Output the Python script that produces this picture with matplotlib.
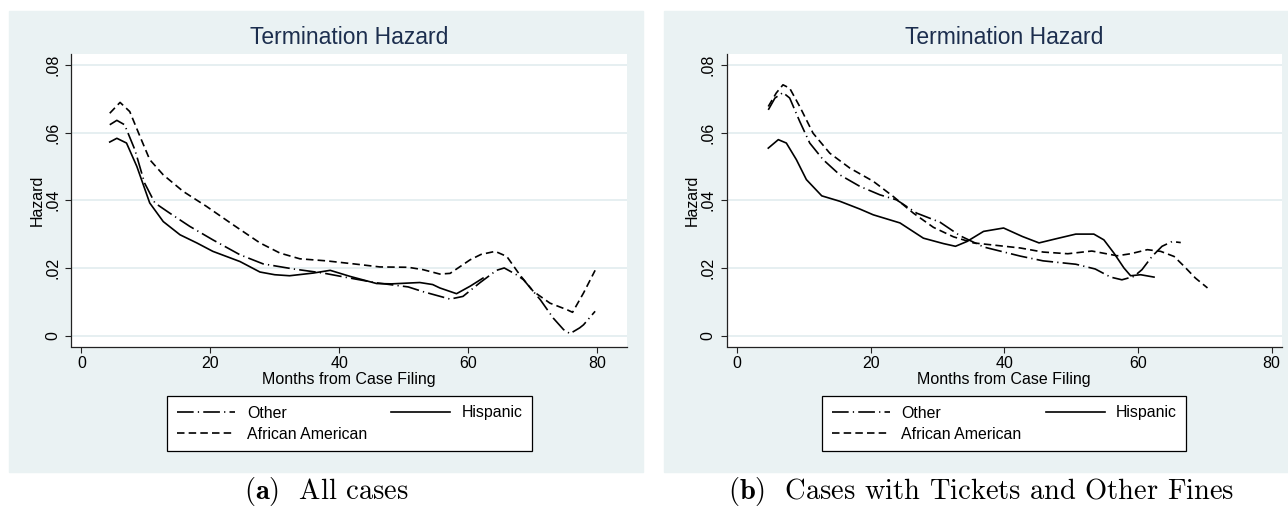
import matplotlib
matplotlib.use("Agg")
import matplotlib.pyplot as plt
from matplotlib.patches import Rectangle

W, H = 1288, 516
plt.rcParams['font.family'] = ['Liberation Sans', 'DejaVu Sans']
plt.rcParams['mathtext.fontset'] = 'cm'
plt.rcParams['lines.scale_dashes'] = False

# ---- data: (a) all cases ----
a_other_x = [4.4, 5.5, 6.7, 8.3, 9.8, 11.4, 13.7, 16.8, 20.4, 24.6, 28.2, 32.9, 37.5, 41.7,
             45.8, 50.7, 53.0, 57.2, 59.2, 61.8, 64.4, 65.6, 67.5, 68.6, 71.2, 73.2, 74.8,
             75.8, 77.3, 77.9, 79.7]
a_other_y = [0.0623, 0.0636, 0.0623, 0.0549, 0.0451, 0.0392, 0.0362, 0.0323, 0.0283, 0.0239,
             0.0212, 0.0197, 0.0185, 0.0170, 0.0156, 0.0144, 0.0130, 0.0108, 0.0116, 0.0156,
             0.0193, 0.0200, 0.0180, 0.0165, 0.0106, 0.0052, 0.0018, 0.0006, 0.0023, 0.0032,
             0.0072]
a_hisp_x = [4.4, 5.5, 7.0, 8.6, 10.6, 12.7, 15.3, 17.9, 20.4, 24.6, 26.5, 27.7, 30.0, 32.3,
            36.0, 38.6, 41.7, 45.8, 48.1, 52.5, 54.5, 55.6, 58.2, 60.3, 62.3]
a_hisp_y = [0.0572, 0.0583, 0.0569, 0.0500, 0.0392, 0.0337, 0.0298, 0.0274, 0.0249, 0.0219,
            0.0200, 0.0188, 0.0180, 0.0177, 0.0185, 0.0193, 0.0175, 0.0154, 0.0153, 0.0157,
            0.0151, 0.0141, 0.0124, 0.0146, 0.0170]
a_afam_x = [4.4, 6.0, 7.5, 9.1, 10.6, 12.7, 15.8, 19.4, 23.5, 27.7, 30.8, 33.9, 38.0, 43.2,
            46.3, 50.7, 53.0, 55.6, 57.2, 60.3, 62.0, 64.2, 66.0, 68.0, 70.1, 72.7, 75.3,
            76.2, 77.9, 79.7]
a_afam_y = [0.0657, 0.0689, 0.0662, 0.0588, 0.0520, 0.0475, 0.0426, 0.0382, 0.0328, 0.0274,
            0.0244, 0.0227, 0.0221, 0.0210, 0.0203, 0.0202, 0.0195, 0.0182, 0.0184, 0.0224,
            0.0240, 0.0249, 0.0234, 0.0180, 0.0131, 0.0096, 0.0077, 0.0069, 0.0126, 0.0193]

# ---- data: (b) tickets and other fines ----
b_other_x = [4.7, 5.7, 6.9, 7.9, 9.4, 10.9, 12.9, 15.4, 18.4, 21.4, 23.9, 26.9, 30.4, 33.4,
             36.9, 42.4, 45.8, 50.7, 53.6, 55.9, 57.6, 59.4, 60.6, 62.1, 63.6, 65.1, 66.4]
b_other_y = [0.0667, 0.0702, 0.0718, 0.0702, 0.0633, 0.0569, 0.0520, 0.0475, 0.0441, 0.0416,
             0.0401, 0.0362, 0.0335, 0.0295, 0.0262, 0.0235, 0.0221, 0.0211, 0.0197, 0.0173,
             0.0165, 0.0175, 0.0195, 0.0234, 0.0264, 0.0278, 0.0275]
b_hisp_x = [4.7, 6.2, 7.4, 8.9, 10.4, 12.7, 15.4, 18.4, 20.4, 24.4, 27.9, 30.9, 32.7, 34.4,
            36.9, 39.9, 42.7, 45.2, 47.7, 50.7, 53.4, 54.9, 56.4, 57.9, 58.9, 60.4, 62.4]
b_hisp_y = [0.0554, 0.0579, 0.0569, 0.0520, 0.0461, 0.0413, 0.0397, 0.0374, 0.0357, 0.0333,
            0.0288, 0.0272, 0.0264, 0.0278, 0.0308, 0.0318, 0.0293, 0.0274, 0.0286, 0.0300,
            0.0300, 0.0283, 0.0244, 0.0200, 0.0177, 0.0180, 0.0173]
b_afam_x = [4.7, 5.9, 6.9, 7.9, 9.4, 11.4, 13.9, 16.9, 20.4, 23.4, 26.4, 29.4, 32.4, 35.4,
            42.4, 45.8, 49.5, 53.1, 56.9, 58.9, 61.4, 63.4, 65.4, 66.9, 68.6, 70.4]
b_afam_y = [0.0677, 0.0717, 0.0741, 0.0731, 0.0677, 0.0598, 0.0539, 0.0495, 0.0456, 0.0411,
            0.0362, 0.0320, 0.0292, 0.0274, 0.0259, 0.0247, 0.0242, 0.0250, 0.0236, 0.0242,
            0.0254, 0.0249, 0.0234, 0.0205, 0.0170, 0.0141]

x_ticks = [0, 20, 40, 60, 80]
y_ticks = [0, 0.02, 0.04, 0.06, 0.08]
y_tick_labels = ['0', '.02', '.04', '.06', '.08']
panel_title = 'Termination Hazard'
captions = [r'$\mathbf{(a)}$  All cases', r'$\mathbf{(b)}$  Cases with Tickets and Other Fines']

BG = '#eaf2f3'
TITLE_C = '#1c2e4e'

styles = {
    'Other': dict(color='black', lw=1.2, dashes=(12, 3, 0.9, 3), dash_capstyle='butt'),
    'Hispanic': dict(color='black', lw=1.2, ls='-'),
    'African American': dict(color='black', lw=1.2, dashes=(5.4, 3), dash_capstyle='butt'),
}

fig = plt.figure(figsize=(W / 100, H / 100), dpi=100)


def fx(px):
    return px / W


def fy(py):
    return 1 - py / H


panels = [
    dict(bg=(9, 643), ax=(71.4, 626.7), xlim=(-1.55, 84.6), legx=167.3,
         ylab_x=44.5, cap_x=326,
         series=[('Other', a_other_x, a_other_y), ('Hispanic', a_hisp_x, a_hisp_y),
                 ('African American', a_afam_x, a_afam_y)]),
    dict(bg=(664, 1288), ax=(726.5, 1281.7), xlim=(-1.55, 81.5), legx=822,
         ylab_x=699.5, cap_x=981,
         series=[('Other', b_other_x, b_other_y), ('Hispanic', b_hisp_x, b_hisp_y),
                 ('African American', b_afam_x, b_afam_y)]),
]

ax_top, ax_bot = 54, 346.5

for i, p in enumerate(panels):
    b0, b1 = p['bg']
    fig.patches.append(Rectangle((fx(b0), fy(472)), fx(b1) - fx(b0), (472 - 11) / H,
                                 transform=fig.transFigure, color=BG, zorder=-5))
    a0, a1 = p['ax']
    ax = fig.add_axes([fx(a0), fy(ax_bot), fx(a1) - fx(a0), (ax_bot - ax_top) / H])
    ax.set_zorder(2)
    ax.set_facecolor('white')
    lines = {}
    for name, xs, ys in p['series']:
        lines[name], = ax.plot(xs, ys, label=name, **styles[name])
    ax.set_xlim(*p['xlim'])
    ax.set_ylim(-0.0032, 0.0832)
    ax.set_xticks(x_ticks)
    ax.set_xticklabels([str(t) for t in x_ticks])
    ax.set_yticks(y_ticks)
    ax.set_yticklabels(y_tick_labels, rotation=90, va='center')
    ax.grid(axis='y', color='#e4eef0', lw=1.3)
    ax.set_axisbelow(True)
    for s in ['top', 'right']:
        ax.spines[s].set_visible(False)
    for s in ['left', 'bottom']:
        ax.spines[s].set_color('#222222')
        ax.spines[s].set_linewidth(0.9)
    ax.tick_params(axis='x', length=4, width=0.8, pad=2.5, labelsize=11.5, color='#222222')
    ax.tick_params(axis='y', length=4, width=0.8, pad=4, labelsize=11.5, color='#222222')

    cx = (a0 + a1) / 2
    fig.text(fx(cx), fy(44.5), panel_title, ha='center', va='baseline',
             fontsize=16.5, color=TITLE_C)
    fig.text(fx(cx), fy(384), 'Months from Case Filing', ha='center', va='baseline',
             fontsize=11.5)
    fig.text(fx(p['ylab_x']), fy(ax_top + (ax_bot - ax_top) / 2), 'Hazard', rotation=90,
             ha='right', va='center', fontsize=11.5)

    handles = [lines['Other'], lines['African American'], lines['Hispanic']]
    leg = fig.legend(handles, [h.get_label() for h in handles], ncol=2, mode='expand',
                     loc='upper left',
                     bbox_to_anchor=(fx(p['legx']), fy(450), 364.4 / W, 54 / H),
                     bbox_transform=fig.transFigure, borderaxespad=0,
                     fontsize=11.4, handlelength=3.7, handletextpad=0.72,
                     labelspacing=0.4, borderpad=0.6, fancybox=False, frameon=True)
    leg.get_frame().set_edgecolor('black')
    leg.get_frame().set_linewidth(0.9)
    leg.get_frame().set_alpha(1)

    fig.text(fx(p['cap_x']), fy(499), captions[i], ha='center', va='baseline',
             fontsize=20.5, family='cmr10')

fig.savefig('out.png', dpi=100)
